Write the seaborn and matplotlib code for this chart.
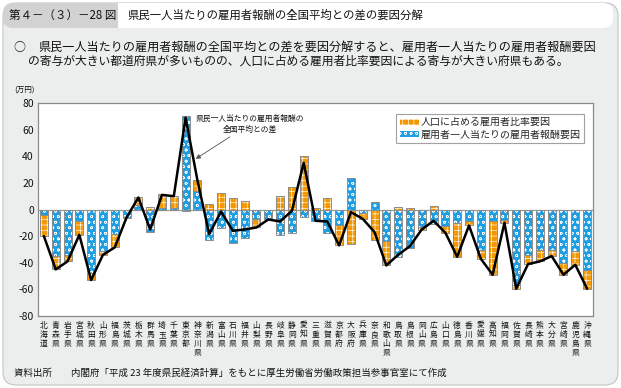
"""県民一人当たりの雇用者報酬の全国平均との差の要因分解 -> out.png"""
import matplotlib
matplotlib.use("Agg")

import matplotlib.pyplot as plt
import numpy as np
import seaborn as sns
from matplotlib.patches import FancyBboxPatch, Patch, Rectangle

prefectures = [
    "北海道", "青森県", "岩手県", "宮城県", "秋田県", "山形県", "福島県", "茨城県",
    "栃木県", "群馬県", "埼玉県", "千葉県", "東京都", "神奈川県", "新潟県", "富山県",
    "石川県", "福井県", "山梨県", "長野県", "岐阜県", "静岡県", "愛知県", "三重県",
    "滋賀県", "京都府", "大阪府", "兵庫県", "奈良県", "和歌山県", "鳥取県", "島根県",
    "岡山県", "広島県", "山口県", "徳島県", "香川県", "愛媛県", "高知県", "福岡県",
    "佐賀県", "長崎県", "熊本県", "大分県", "宮崎県", "鹿児島県", "沖縄県",
]
# 雇用者一人当たりの雇用者報酬要因 (万円)
wage_factor = [
    -4, -35, -34, -9, -48, -31, -18.5, -6, 3.5, -17, 1, 1, 70.5, 14, -23, -14,
    -25, -21.5, -7.5, -7, -19.5, -18, -5.5, -9, -17.5, -12, 24, -3, 6, -24, -36, -29,
    -13.5, -11, -12.5, -10.5, -8.5, -30.5, -9, -8, -57, -34, -30.5, -30.5, -40, -31.5, -45.5,
]
# 人口に占める雇用者比率要因 (万円)
ratio_factor = [
    -16, -10, -5, -10, -5, -3, -10, -0.5, 6, 2, 10.5, 9, -1.5, 8, 4.5, 12.5,
    9, 6.5, -6, -0.5, 10.5, 17, 40.5, 0.8, 9, -15, -26, -4, -23, -18, 2, 1.5,
    -2, 2.5, -5, -25, -3.5, -6.5, -40, -2, -2.5, -7, -8.5, -4.5, -9, -10, -14,
]
# 県民一人当たりの雇用者報酬の全国平均との差 (万円)
total_diff = [
    -20, -45, -39, -19, -53, -34, -28.5, -6, 9, -15, 11, 10, 69, 22, -18.5, -1.5,
    -16, -15, -13.5, -7.5, -9, -1, 35, -8.5, -9, -27, -2, -7, -17, -42, -34, -27.5,
    -15, -8.5, -17.5, -35.5, -12, -37, -49, -10, -59.5, -41, -39, -35, -49, -41.5, -59.5,
]
y_ticks = [-80, -60, -40, -20, 0, 20, 40, 60, 80]

ORANGE = "#F39800"
BLUE = "#1E9DE0"
EDGE = "#8c8c8c"
PANEL = "#ECEEEE"

sns.set_theme(style="white")
plt.rcParams["font.family"] = ["Noto Sans CJK JP", "DejaVu Sans"]
plt.rcParams["hatch.linewidth"] = 0.45

W, H = 621, 388
fig = plt.figure(figsize=(W / 100, H / 100), dpi=100)
fig.patch.set_facecolor("white")


def fy(py):
    return 1 - py / H


def fx(px):
    return px / W


# panel background and header (kept behind the axes)
bg = dict(transform=fig.dpi_scale_trans, zorder=-10)
fig.add_artist(FancyBboxPatch((0.03, 0.03), 6.15, 3.82, boxstyle="round,pad=0,rounding_size=0.13",
                              facecolor=PANEL, edgecolor="#c4c4c4", lw=0.8, **bg))
fig.add_artist(FancyBboxPatch((1.18, 3.60), 4.95, 0.25, boxstyle="round,pad=0,rounding_size=0.1",
                              facecolor="white", edgecolor="none", **bg))
fig.add_artist(Rectangle((1.18, 3.60), 1.0, 0.25, facecolor="white", edgecolor="none", **bg))
fig.add_artist(FancyBboxPatch((0.03, 3.60), 1.15, 0.25, boxstyle="round,pad=0,rounding_size=0.1",
                              facecolor="#d2d2d2", edgecolor="none", **bg))
fig.add_artist(Rectangle((0.6, 3.60), 0.58, 0.25, facecolor="#d2d2d2", edgecolor="none", **bg))

fig.text(fx(9), fy(15), "第４－（３）－28 図", fontsize=8.3, va="center", ha="left", color="#111")
fig.text(fx(127), fy(15), "県民一人当たりの雇用者報酬の全国平均との差の要因分解",
         fontsize=8.2, va="center", ha="left", color="#111")
fig.text(fx(13), fy(47), "○", fontsize=8.6, va="center", ha="left", color="#111")
fig.text(fx(38), fy(47),
         "県民一人当たりの雇用者報酬の全国平均との差を要因分解すると、雇用者一人当たりの雇用者報酬要因",
         fontsize=8.7, va="center", ha="left", color="#111")
fig.text(fx(28), fy(61),
         "の寄与が大きい都道府県が多いものの、人口に占める雇用者比率要因による寄与が大きい府県もある。",
         fontsize=8.5, va="center", ha="left", color="#111")
fig.text(fx(14), fy(91), "(万円)", fontsize=5.5, va="center", ha="left", color="#111")
fig.text(fx(14), fy(373),
         "資料出所　　内閣府「平成 23 年度県民経済計算」をもとに厚生労働省労働政策担当参事官室にて作成",
         fontsize=6.8, va="center", ha="left", color="#111")

ax = fig.add_axes([fx(38), fy(316), fx(593) - fx(38), fy(103) - fy(316)])
ax.set_facecolor("white")

labels = ["\n".join(p) for p in prefectures]
wage = np.array(wage_factor)
ratio = np.array(ratio_factor)
pos = np.arange(len(prefectures))
ratio_bottom = np.where(np.sign(ratio) == np.sign(wage), wage, 0)
bw = 0.68

ax.axhline(0, color="#9a9a9a", lw=0.9, zorder=1)

sns.barplot(x=labels, y=wage_factor, ax=ax, color=BLUE, saturation=1, width=bw,
            edgecolor="white", linewidth=0, hatch="ooo", zorder=2)
ax.bar(pos, ratio, bottom=ratio_bottom, width=bw, color=ORANGE, edgecolor="white",
       linewidth=0, hatch="+++", zorder=2)
ax.bar(pos, wage, width=bw, fill=False, edgecolor=EDGE, linewidth=0.7, zorder=3)
ax.bar(pos, ratio, bottom=ratio_bottom, width=bw, fill=False, edgecolor=EDGE,
       linewidth=0.7, zorder=3)

sns.lineplot(x=pos, y=total_diff, ax=ax, color="black", lw=1.8, zorder=4, sort=False)

ax.set_xlim(-0.5, len(prefectures) - 0.5)
ax.set_ylim(-80, 80)
ax.set_yticks(y_ticks)
ax.set_yticklabels([str(v) for v in y_ticks], fontsize=7.5, color="#111")
ax.set_xticks(pos)
ax.set_xticklabels(labels, fontsize=5.6, color="#111", linespacing=1.2, va="top")
ax.tick_params(axis="both", length=0)
ax.tick_params(axis="x", pad=4)
ax.tick_params(axis="y", pad=3)
ax.set_xlabel("")
ax.set_ylabel("")
for s in ax.spines.values():
    s.set_color("#8a8a8a")
    s.set_linewidth(0.9)

ax.annotate("県民一人当たりの雇用者報酬の\n全国平均との差", xy=(12.85, 38), xytext=(17.4, 64),
            ha="center", va="center", fontsize=5.6, color="#111", linespacing=1.35,
            arrowprops=dict(arrowstyle="-|>", color="#555", lw=0.6, mutation_scale=7,
                            shrinkA=0, shrinkB=0))

handles = [
    Patch(facecolor=ORANGE, edgecolor="white", hatch="+++", linewidth=0,
          label="人口に占める雇用者比率要因"),
    Patch(facecolor=BLUE, edgecolor="white", hatch="ooo", linewidth=0,
          label="雇用者一人当たりの雇用者報酬要因"),
]
leg = ax.legend(handles=handles, loc="upper right", bbox_to_anchor=(0.984, 0.95),
                fontsize=7.2, frameon=True, fancybox=False, handlelength=1.9,
                handleheight=0.55, handletextpad=0.2, borderpad=0.35, labelspacing=0.25,
                borderaxespad=0)
leg.get_frame().set_edgecolor("#8a8a8a")
leg.get_frame().set_linewidth(0.8)

fig.savefig("out.png", dpi=100)
